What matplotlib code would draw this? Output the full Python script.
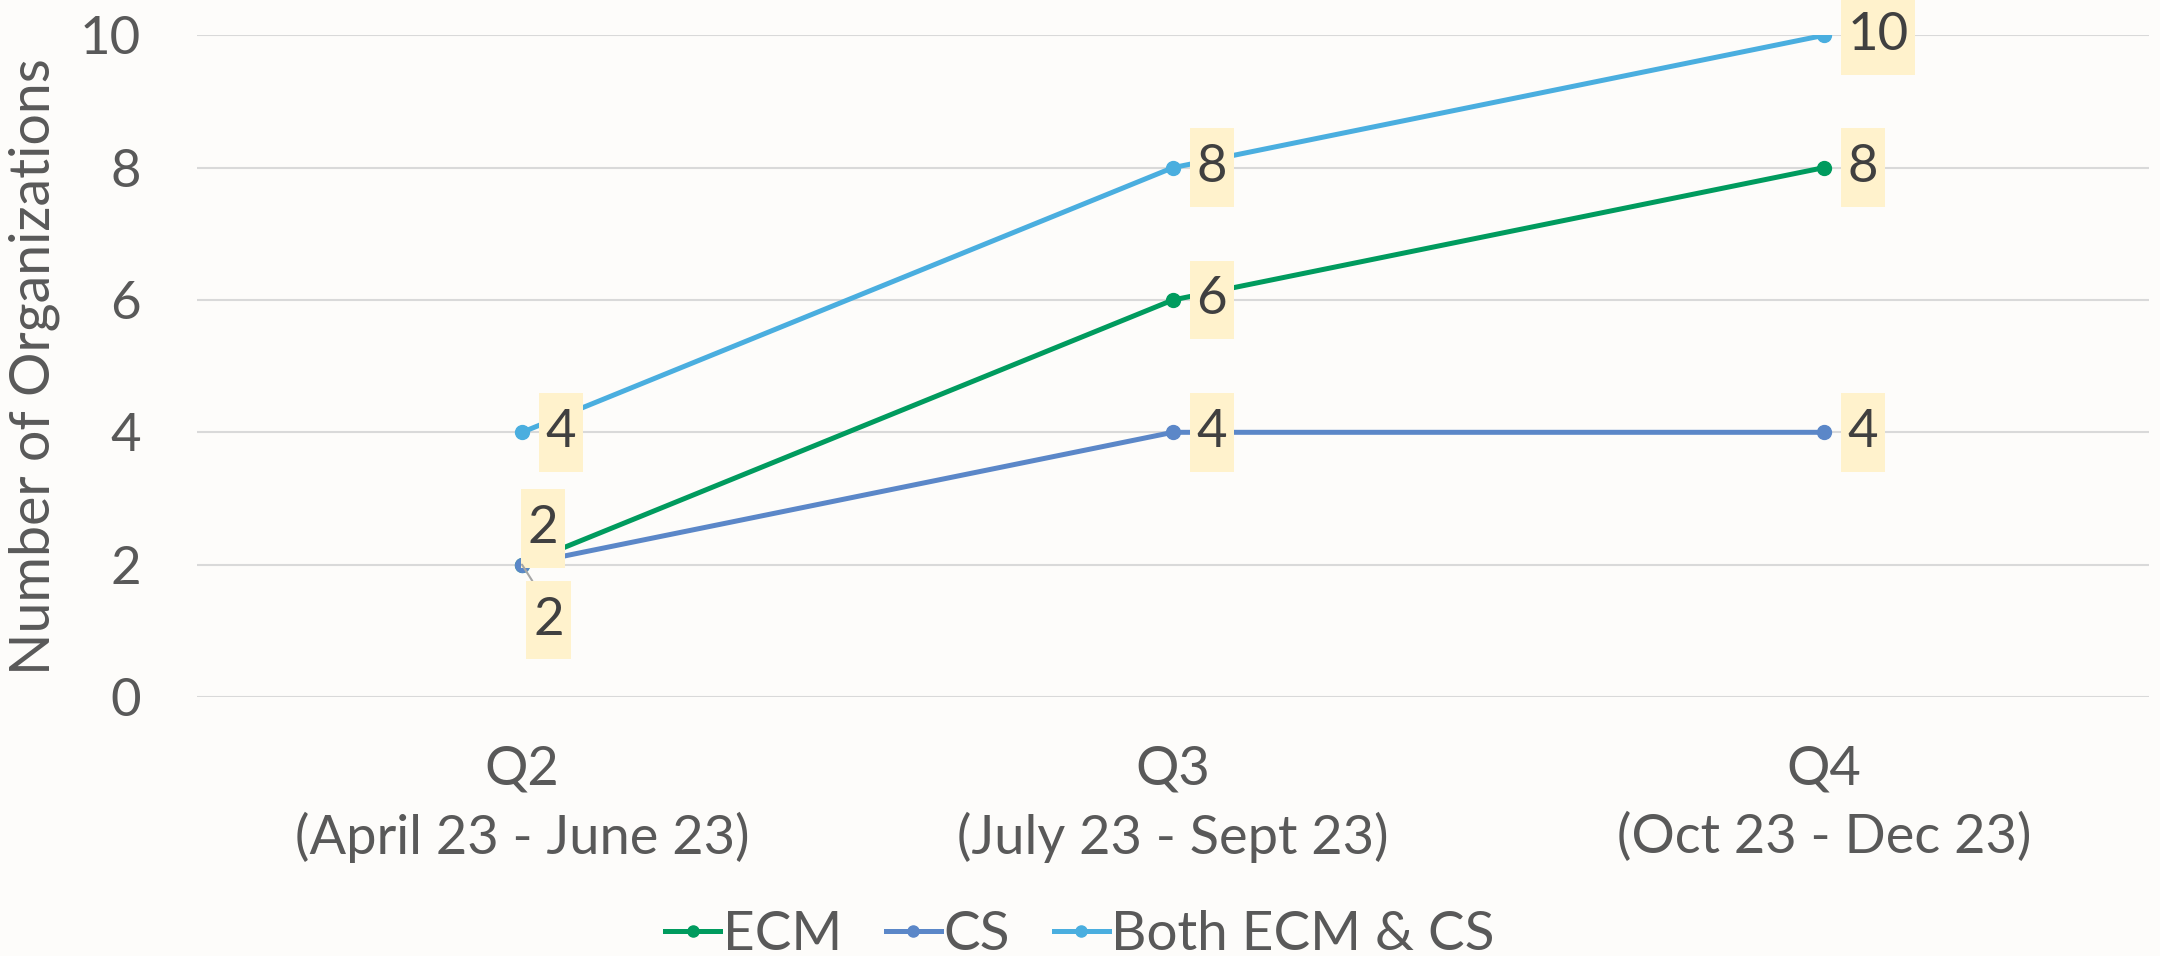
import matplotlib.pyplot as plt

quarters = ["Q2\n(April 23 - June 23)", "Q3\n(July 23 - Sept 23)", "Q4\n(Oct 23 - Dec 23)"]
ecm = [2, 6, 8]
cs = [2, 4, 4]
both = [4, 8, 10]

series_names = ["ECM", "CS", "Both ECM & CS"]
colors = ["#009B5E", "#5B87C8", "#4AAEDF"]

plt.rcParams['font.family'] = ['Lato', 'DejaVu Sans']

fig = plt.figure(figsize=(21.6, 9.56), dpi=100, facecolor="#FDFCFA")
ax = fig.add_axes([0.091, 0.271, 0.904, 0.692])
ax.set_facecolor("#FDFCFA")

x = list(range(len(quarters)))
for vals, name, col in zip([ecm, cs, both], series_names, colors):
    ax.plot(x, vals, color=col, linewidth=3.6, marker="o", markersize=10, label=name, zorder=3)

box = dict(boxstyle="square,pad=0.13", fc="#FFF2CC", ec="none", mutation_aspect=2.3)
lab_kw = dict(textcoords="offset points", fontsize=38, color="#404040", va="center", ha="left",
              bbox=box, zorder=5)

# labels to the right of the points
for vals in [ecm, cs, both]:
    for i, v in enumerate(vals):
        if i == 0 and v == 2:
            continue
        ax.annotate(str(v), (i, v), xytext=(17, 0), **lab_kw)

# Q2 overlapping labels
ax.annotate(str(ecm[0]), (0, ecm[0]), xytext=(4, 26), **lab_kw)
ax.annotate(str(cs[0]), (0, cs[0]), xytext=(8, -40),
            arrowprops=dict(arrowstyle="-", color="#A6A6A6", lw=1.5, shrinkA=0, shrinkB=0,
                            relpos=(0.3, 1.0)),
            **lab_kw)

ax.set_xlim(-0.5, 2.5)
ax.set_ylim(0, 10)
ax.set_yticks([0, 2, 4, 6, 8, 10])
ax.set_xticks(x)
ax.set_xticklabels(quarters, linespacing=1.45)
ax.tick_params(axis="both", length=0, labelsize=38, labelcolor="#595959")
ax.tick_params(axis="x", labelsize=39, pad=34)
ax.tick_params(axis="y", pad=40)
ax.grid(axis="y", color="#D9D9D9", linewidth=1.5, zorder=0)
ax.set_axisbelow(True)
for s in ax.spines.values():
    s.set_visible(False)

ax.set_ylabel("Number of Organizations", fontsize=40, color="#595959", labelpad=14)

fig.legend(loc="center", bbox_to_anchor=(0.5, 0.022), ncol=3, frameon=False, fontsize=39.5,
           labelcolor="#595959", handlelength=1.0, handletextpad=0.05, columnspacing=0.8,
           markerscale=0.8)

plt.savefig("out.png", dpi=100, facecolor=fig.get_facecolor())
